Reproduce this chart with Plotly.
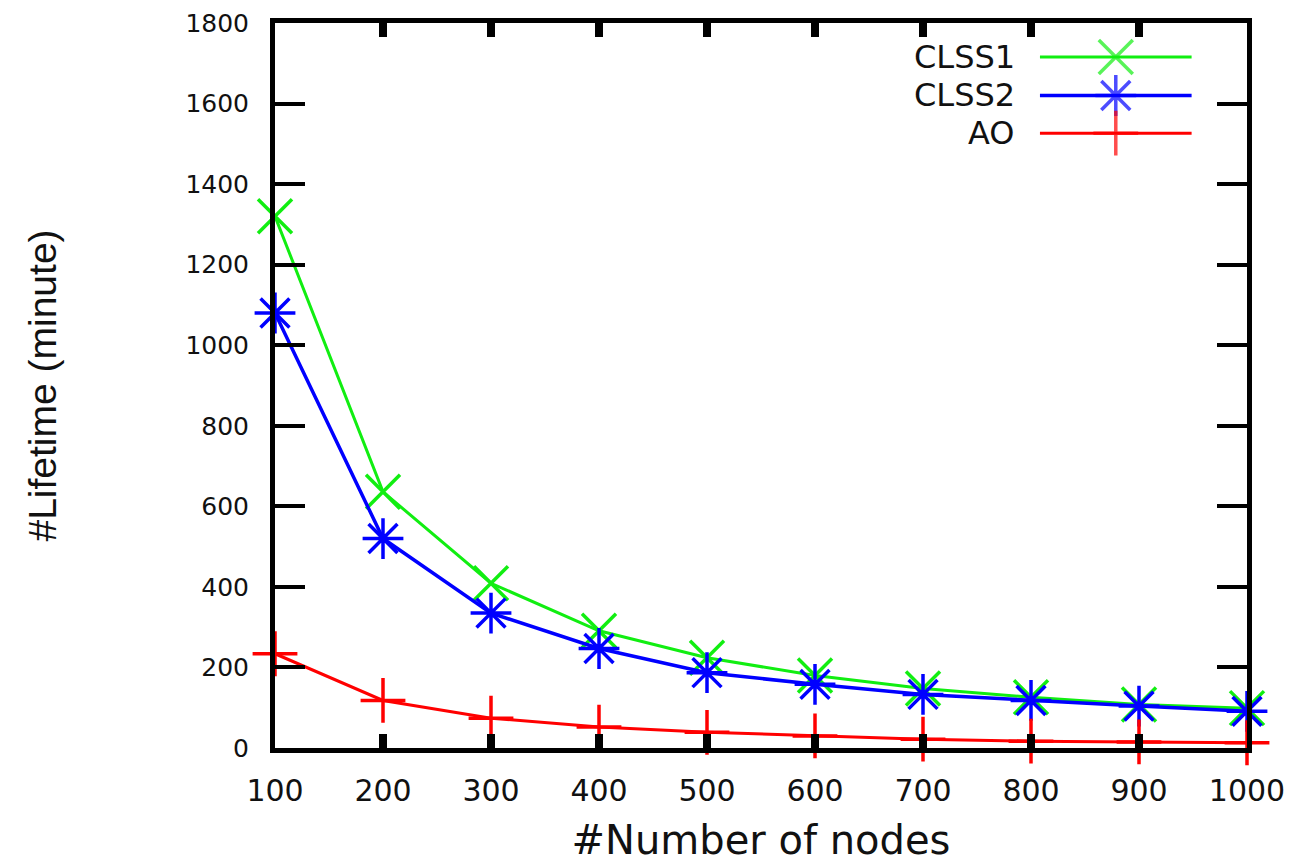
import plotly.graph_objects as go

# ---- data ----
nodes = [100, 200, 300, 400, 500, 600, 700, 800, 900, 1000]
clss1 = [1320, 636, 409, 291, 224, 180, 148, 126, 108, 99]
clss2 = [1080, 520, 335, 247, 187, 158, 133, 118, 104, 91]
ao = [234, 118, 74, 52, 39, 30, 22, 17, 15, 13]
series_names = ["CLSS1", "CLSS2", "AO"]
x_ticks = [100, 200, 300, 400, 500, 600, 700, 800, 900, 1000]
y_ticks = [0, 200, 400, 600, 800, 1000, 1200, 1400, 1600, 1800]

# ---- styles ----
colors = ["#11ee11", "#0000ff", "#ff0000"]
symbols = ["x-thin-open", "asterisk-open", "cross-thin-open"]
msizes = [34, 34, 32]
lwidths = [3, 3.5, 3]
xtick_font = dict(family="DejaVu Sans", size=30, color="#111111")
ytick_font = dict(family="DejaVu Sans", size=25, color="#111111")

fig = go.Figure()
for name, vals, c, s, ms, lw in zip(series_names, [clss1, clss2, ao], colors, symbols, msizes, lwidths):
    fig.add_trace(go.Scatter(
        x=nodes, y=vals, mode="lines+markers", name=name,
        line=dict(color=c, width=lw),
        marker=dict(symbol=s, size=ms, color=c, line=dict(color=c, width=3.5)),
        cliponaxis=False, showlegend=False,
    ))

# ---- custom legend (text left of sample, as in gnuplot) ----
leg_y = [0.953, 0.900, 0.848]
leg_text_x = 0.763
leg_line_x = [0.787, 0.865, 0.943]
for name, c, s, ms, lw, yy in zip(series_names, colors, symbols, msizes, lwidths, leg_y):
    fig.add_trace(go.Scatter(
        x=leg_line_x, y=[yy, yy, yy], xaxis="x2", yaxis="y2",
        mode="lines+markers", showlegend=False, hoverinfo="skip",
        line=dict(color=c, width=lw),
        marker=dict(symbol=s, size=[0, ms, 0], color=c, line=dict(color=c, width=3.5)),
        cliponaxis=False,
    ))
    fig.add_annotation(
        x=leg_text_x, y=yy, xref="paper", yref="paper", text=name,
        showarrow=False, xanchor="right", yanchor="middle",
        font=dict(family="DejaVu Sans", size=32, color="#111111"),
    )

fig.update_layout(
    width=1307, height=863,
    margin=dict(l=267, r=68, t=15, b=123, autoexpand=False),
    paper_bgcolor="white", plot_bgcolor="white",
    showlegend=False,
    xaxis=dict(
        range=[100, 1000], tickvals=x_ticks, ticktext=[str(v) for v in x_ticks],
        showgrid=False, zeroline=False, automargin=False,
        showline=True, linewidth=5, linecolor="black", mirror="allticks",
        ticks="inside", ticklen=14, tickwidth=8, tickcolor="black",
        tickfont=xtick_font, ticklabelstandoff=12, ticklabeloverflow="allow",
        title=dict(text="#Number of nodes", font=dict(family="DejaVu Sans", size=40, color="#111111"), standoff=20),
    ),
    yaxis=dict(
        range=[0, 1800], tickvals=y_ticks, ticktext=[str(v) for v in y_ticks],
        showgrid=False, zeroline=False, automargin=False,
        showline=True, linewidth=5, linecolor="black", mirror="allticks",
        ticks="inside", ticklen=30, tickwidth=4, tickcolor="black",
        tickfont=ytick_font, ticklabelstandoff=16, ticklabeloverflow="allow",
        title=dict(text="#Lifetime (minute)", font=dict(family="Liberation Sans", size=39, color="#111111"), standoff=118),
    ),
    xaxis2=dict(range=[0, 1], overlaying="x", visible=False, fixedrange=True),
    yaxis2=dict(range=[0, 1], overlaying="y", visible=False, fixedrange=True),
)

fig.write_html("out.html")
